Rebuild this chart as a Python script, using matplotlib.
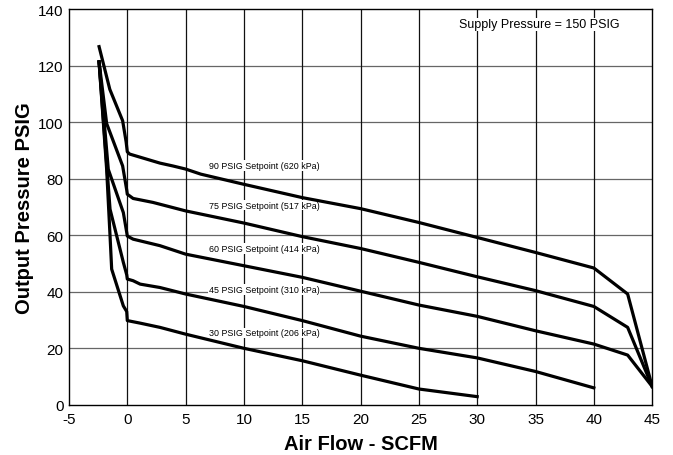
import matplotlib
matplotlib.use("Agg")
import matplotlib.pyplot as plt

plt.rcParams['font.family'] = ['Liberation Sans', 'DejaVu Sans']
plt.rcParams['axes.unicode_minus'] = False

# Curve data (Air flow SCFM, Output pressure PSIG)
x90 = [-2.42, -1.5, -0.4, -0.1, 0.0, 0.2, 2.8, 3.9, 5, 6.3, 10, 15, 20, 25, 30, 35, 40, 42.9, 45]
y90 = [126.7, 111.6, 100.5, 93, 89.5, 88.7, 85.5, 84.5, 83.4, 81.6, 78, 73.3, 69.4, 64.5, 59.2, 53.9, 48.4, 39.2, 6.5]

x75 = [-2.42, -1.77, -0.4, -0.05, 0.0, 0.5, 2.2, 5, 10, 15, 20, 25, 30, 35, 40, 42.9, 45]
y75 = [121.3, 99.5, 84.5, 76, 74.5, 73, 71.6, 68.6, 64.3, 59.5, 55.3, 50.4, 45.3, 40.4, 34.8, 27.4, 6.5]

x60 = [-2.42, -1.63, -0.34, -0.05, 0.0, 0.5, 2.8, 5, 10, 15, 20, 25, 30, 35, 40, 42.9, 45]
y60 = [121.3, 83.3, 68, 61, 59.7, 58.6, 56.3, 53.3, 49.2, 45.1, 40.2, 35.3, 31.3, 26.2, 21.5, 17.6, 6.5]

x45 = [-2.42, -1.48, -0.34, -0.05, 0.0, 0.5, 1.1, 2.8, 5, 10, 15, 20, 25, 30, 35, 40]
y45 = [121.3, 69.2, 50.4, 46, 44.5, 43.9, 42.7, 41.5, 39.2, 34.8, 29.8, 24.3, 20, 16.6, 11.8, 6]

x30 = [-2.42, -1.77, -1.48, -1.34, -0.34, -0.05, 0.0, 1.1, 2.8, 5, 10, 15, 20, 25, 30]
y30 = [121.3, 83.3, 59.8, 48, 35, 33, 29.8, 28.9, 27.4, 25, 20, 15.6, 10.5, 5.6, 2.9]

series = [(x90, y90), (x75, y75), (x60, y60), (x45, y45), (x30, y30)]

labels = ["90 PSIG Setpoint (620 kPa)", "75 PSIG Setpoint (517 kPa)",
          "60 PSIG Setpoint (414 kPa)", "45 PSIG Setpoint (310 kPa)",
          "30 PSIG Setpoint (206 kPa)"]
label_y = [84.7, 70.6, 55.3, 40.8, 25.5]
label_x = 7.0

xticks = [-5, 0, 5, 10, 15, 20, 25, 30, 35, 40, 45]
yticks = [0, 20, 40, 60, 80, 100, 120, 140]

fig = plt.figure(figsize=(6.73, 4.56), dpi=100)
ax = fig.add_axes([0.1025, 0.110, 0.8665, 0.868])

ax.set_xlim(-5, 45)
ax.set_ylim(0, 140)
ax.set_xticks(xticks)
ax.set_yticks(yticks)
ax.tick_params(length=0, labelsize=11)
ax.tick_params(axis='x', pad=5)
ax.tick_params(axis='y', pad=4)

for yv in yticks[1:-1]:
    ax.axhline(yv, color='#666666', lw=0.9, zorder=1)
for xv in xticks[1:-1]:
    ax.axvline(xv, color='#111111', lw=0.9, zorder=1)

for xs, ys in series:
    ax.plot(xs, ys, color='black', lw=2.3, zorder=4, solid_joinstyle='round')

for lab, ly in zip(labels, label_y):
    ax.text(label_x, ly, lab, fontsize=6.4, ha='left', va='center', zorder=3,
            bbox=dict(facecolor='white', edgecolor='none', pad=0.5))

ax.text(28.4, 134.6, "Supply Pressure = 150 PSIG", fontsize=9, ha='left', va='center',
        zorder=3, bbox=dict(facecolor='white', edgecolor='none', pad=0.5))

for sp in ax.spines.values():
    sp.set_linewidth(1.0)
    sp.set_color('black')

ax.set_xlabel("Air Flow - SCFM", fontsize=14.5, fontweight='bold', labelpad=6)
ax.set_ylabel("Output Pressure PSIG", fontsize=14.5, fontweight='bold', labelpad=2.5)

fig.savefig("out.png", dpi=100)
